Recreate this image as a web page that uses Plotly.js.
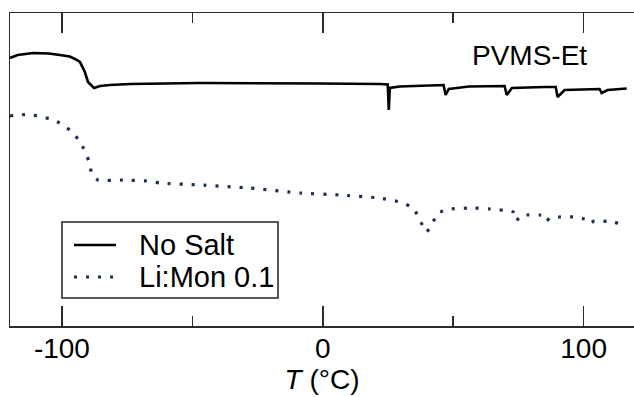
<!DOCTYPE html>
<html>
<head>
<meta charset="utf-8">
<script src="https://cdn.plot.ly/plotly-3.0.1.min.js"></script>
<style>
  html, body { margin: 0; padding: 0; background: #fff; overflow: hidden; }
  #chart { width: 634px; height: 397px; }
</style>
</head>
<body>
<div id="chart"></div>
<script>
// DSC heating traces for PVMS-Et, heat flow in arbitrary units (endo down)
const noSaltT = [
  -119.9, -117, -111, -105, -100.8, -97, -95, -93.1, -91.2, -90.0, -87.7, -85.4,
  -81.6, -73.9, -47.1, -16.5, -1.1, 21.8, 24.9, 25.3, 25.7, 29.5, 40, 46.3, 47.1,
  48.3, 56, 69.7, 70.5, 72.5, 85, 89.3, 90.0, 92.7, 106.1, 106.9, 109.2, 116.5
];
const noSaltHeatFlow = [
  268, 271, 273, 272.5, 271, 269.5, 267, 264, 254, 244, 238, 240,
  241, 242, 243, 243, 242.5, 242, 241.5, 216, 238, 239.5, 240.5, 241, 231,
  237, 239.5, 240, 231, 238, 239, 239, 229, 236, 237, 233, 236, 237.5
];

const liMonT = [
  -119.9, -117.6, -113.4, -108.8, -104.6, -100, -96.6, -93.5, -91.2, -89.7, -88.5,
  -86.2, -76.6, -67.4, -62.5, -47.1, -28.0, -8.8, 6.5, 21.8, 29.5, 33.3, 35.2,
  37.2, 39.8, 42.1, 44.1, 48.7, 58.2, 64.0, 71.6, 73.0, 74.3, 75.5, 78.2, 83.1,
  84.8, 85.8, 87, 90.8, 96.6, 100.4, 101.8, 102.7, 104, 106.1, 111.5, 115.3
];
const liMonHeatFlow = [
  210, 211, 211.3, 210, 207, 202, 195, 186, 175, 165, 152,
  146, 146, 145, 143, 141, 138, 133, 131, 128, 124, 120, 116,
  106, 94, 103, 113, 117, 118, 117, 115, 114, 105, 110, 111, 111,
  110, 105, 108, 109, 109, 107, 106, 103, 105, 105, 104, 101
];

const seriesNames = ['No Salt', 'Li:Mon 0.1'];
const xTickVals = [-100, 0, 100];
const xTickText = ['-100', '0', '100'];
const xMinorVals = [-50, 50];

const FONT = 'Liberation Sans, Arial, Helvetica, sans-serif';
const AXIS = '#2b2b2b';
const SOLID = { color: '#000000', width: 2.6 };
const DOTTED = { color: '#1c2f4f', width: 3.2, dash: '3px,9px' };

const traces = [
  {
    x: noSaltT, y: noSaltHeatFlow, type: 'scatter', mode: 'lines',
    name: seriesNames[0], line: Object.assign({ shape: 'linear' }, SOLID)
  },
  {
    x: liMonT, y: liMonHeatFlow, type: 'scatter', mode: 'lines',
    name: seriesNames[1], line: Object.assign({ shape: 'spline', smoothing: 0.4 }, DOTTED)
  }
];

// Compact framed key in the lower-left corner (paper coordinates)
const key = { x0: 0.0833, x1: 0.4295, y0: 0.0895, y1: 0.3323,
              sx0: 0.1026, sx1: 0.1699, tx: 0.2035, rows: [0.2588, 0.1565] };

const shapes = [
  { type: 'rect', xref: 'paper', yref: 'paper', x0: key.x0, x1: key.x1, y0: key.y0, y1: key.y1,
    line: { color: '#222222', width: 1.5 }, fillcolor: '#ffffff', layer: 'above' },
  { type: 'line', xref: 'paper', yref: 'paper', x0: key.sx0, x1: key.sx1, y0: key.rows[0], y1: key.rows[0],
    line: SOLID, layer: 'above' },
  { type: 'line', xref: 'paper', yref: 'paper', x0: key.sx0, x1: key.sx1, y0: key.rows[1], y1: key.rows[1],
    line: DOTTED, layer: 'above' }
];

const annotations = [
  {
    text: 'PVMS-Et', xref: 'paper', yref: 'paper', x: 0.833, y: 0.863,
    xanchor: 'center', yanchor: 'middle', showarrow: false,
    font: { family: FONT, size: 28, color: '#000000' }
  }
].concat(seriesNames.map((name, i) => ({
  text: name, xref: 'paper', yref: 'paper', x: key.tx, y: key.rows[i],
  xanchor: 'left', yanchor: 'middle', showarrow: false,
  font: { family: FONT, size: 29, color: '#000000' }
})));

const layout = {
  width: 634, height: 397,
  margin: { l: 10, r: 0, t: 13, b: 71, pad: 0 },
  paper_bgcolor: '#ffffff', plot_bgcolor: '#ffffff',
  font: { family: FONT, size: 28, color: '#000000' },
  showlegend: false,
  xaxis: {
    range: [-119.9, 119.3],
    tickmode: 'array', tickvals: xTickVals, ticktext: xTickText,
    ticks: 'inside', ticklen: 20, tickwidth: 1.5, tickcolor: AXIS,
    minor: { tickmode: 'array', tickvals: xMinorVals, ticks: 'inside', ticklen: 10, tickwidth: 1.5, tickcolor: AXIS, showgrid: false },
    showline: true, linewidth: 1.5, linecolor: AXIS, mirror: 'ticks',
    showgrid: false, zeroline: false,
    ticklabelstandoff: -3,
    tickfont: { family: FONT, size: 28, color: '#000000' },
    title: { text: '<i>T</i> (°C)', font: { family: FONT, size: 28, color: '#000000' }, standoff: 2 },
    automargin: false, fixedrange: true
  },
  yaxis: {
    range: [0, 313],
    showline: true, linewidth: 1.5, linecolor: AXIS, mirror: false,
    showticklabels: false, ticks: '', showgrid: false, zeroline: false,
    automargin: false, fixedrange: true
  },
  shapes: shapes,
  annotations: annotations
};

Plotly.newPlot('chart', traces, layout, { staticPlot: true, displayModeBar: false });
</script>
</body>
</html>
